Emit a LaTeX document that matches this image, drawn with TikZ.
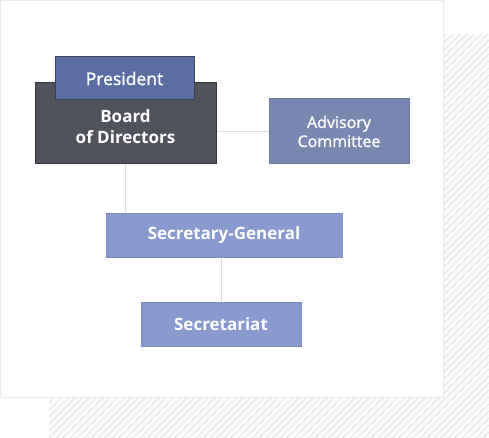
\documentclass[tikz,border=0pt]{standalone}
\usepackage{fontspec}
\setmainfont{Open Sans}
\newfontfamily\medfont{Open Sans}[FakeBold=1.3]
\begin{document}
\begin{tikzpicture}[x=1pt,y=-1pt,
  box/.style={rectangle, inner sep=0pt, line width=1pt, text=white, align=center, font=\fontsize{17}{21}\selectfont\bfseries},
  conn/.style={draw=connc, line width=1pt}]
\definecolor{connc}{HTML}{DDDDDD}
\definecolor{panelb}{HTML}{EBEBEB}
\definecolor{hatchbg}{HTML}{FBFBFB}
\definecolor{hatchc}{HTML}{E4E4E4}
\definecolor{boardf}{HTML}{50525C}
\definecolor{boardd}{HTML}{36383F}
\definecolor{presf}{HTML}{5A6EA3}
\definecolor{presd}{HTML}{3C4252}
\definecolor{advf}{HTML}{7988B0}
\definecolor{advd}{HTML}{6C7AA4}
\definecolor{sgf}{HTML}{8799CF}
\definecolor{sgd}{HTML}{7C8EC8}
\useasboundingbox (0,0) rectangle (489,438);
% hatched backdrop
\begin{scope}
  \clip (49,35) rectangle (489,438);
  \fill[hatchbg] (49,35) rectangle (489,438);
  \foreach \i in {0,7,...,910} {
    \draw[hatchc, line width=0.9pt] (49+\i-420,438) -- (49+\i,35-17);
  }
\end{scope}
% white panel
\draw[panelb, fill=white, line width=1pt] (0.5,0.5) rectangle (443,397);
% nodes
\node[box, fill=boardf, draw=boardd, minimum width=181pt, minimum height=81pt] (board) at (125.5,123.5) {};
\node[box, fill=presf, draw=presd, minimum width=139pt, minimum height=43pt, font=\fontsize{17.5}{20}\selectfont\medfont] (pres) at (124.5,78.5) {President};
\node[box, text=white, align=center, font=\fontsize{17}{21}\selectfont\bfseries] (boardtxt) at ([yshift=-3.5pt]board.center) {Board\\of Directors};
\node[box, fill=advf, draw=advd, minimum width=140pt, minimum height=65pt, font=\fontsize{16}{19}\selectfont\medfont] (adv) at (339,131.5) {Advisory\\Committee};
\node[box, fill=sgf, draw=sgd, minimum width=236pt, minimum height=44pt] (sg) at (224,235) {Secretary-General};
\node[box, fill=sgf, draw=sgd, minimum width=160pt, minimum height=44pt] (sec) at (221,324) {Secretariat};
% connectors
\draw[conn] (adv.west) -- (adv.west -| board.east);
\draw[conn] (board.south) -- (board.south |- sg.north);
\draw[conn] (sec.north) -- (sec.north |- sg.south);
\end{tikzpicture}
\end{document}
